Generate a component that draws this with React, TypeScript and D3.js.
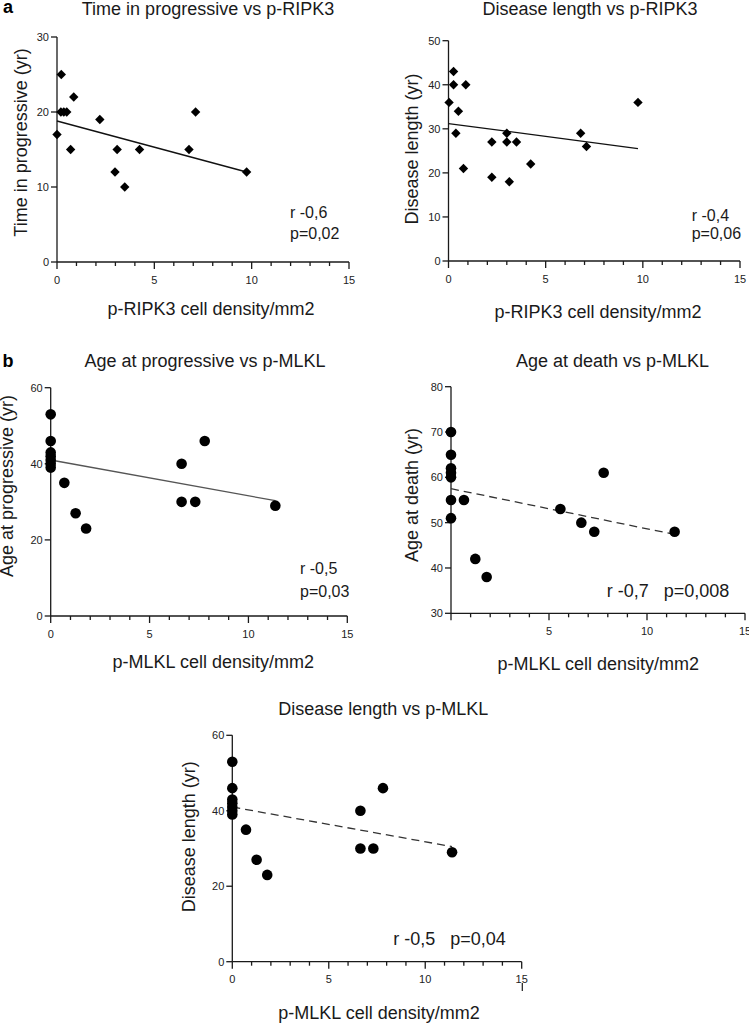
import React from 'react';
import * as d3 from 'd3';

// ---------- data ----------
type Pt = [number, number];

const ripk3TimeProgressive: Pt[] = [
  [0, 17], [0.22, 25], [0.2, 20], [0.35, 20], [0.5, 20], [0.86, 22], [0.7, 15],
  [2.2, 19], [2.98, 12], [3.09, 15], [3.48, 10], [4.24, 15], [6.78, 15], [7.12, 20], [9.74, 12],
];
const ripk3TimeFit: Pt[] = [[0, 18.8], [9.74, 12.0]];

const ripk3DiseaseLength: Pt[] = [
  [0.03, 36], [0.26, 43], [0.26, 40], [0.89, 40], [0.51, 34], [0.38, 29], [0.77, 21],
  [2.23, 27], [2.23, 19], [3.0, 29], [3.0, 27], [3.13, 18], [3.5, 27], [4.23, 22],
  [6.8, 29], [7.1, 26], [9.75, 36],
];
const ripk3DiseaseFit: Pt[] = [[0, 31.2], [9.75, 25.5]];

const mlklAgeProgressive: Pt[] = [
  [0, 53], [0, 46], [0, 43], [0, 42], [0, 41], [0, 40], [0, 39],
  [0.69, 35], [1.26, 27], [1.79, 23], [6.62, 40], [6.62, 30], [7.31, 30], [7.79, 46], [11.36, 29],
];
const mlklAgeProgressiveFit: Pt[] = [[0, 41], [11.36, 30.3]];

const mlklAgeDeath: Pt[] = [
  [0, 70], [0, 65], [0, 62], [0, 61], [0, 60], [0, 55], [0, 51],
  [0.66, 55], [1.24, 42], [1.82, 38], [5.58, 53], [6.65, 50], [7.31, 48], [7.79, 61], [11.41, 48],
];
const mlklAgeDeathFit: Pt[] = [[0, 57.5], [11.41, 47.4]];

const mlklDiseaseLength: Pt[] = [
  [0, 53], [0, 46], [0, 43], [0, 42], [0, 41], [0, 40], [0, 39],
  [0.71, 35], [1.26, 27], [1.81, 23], [6.64, 40], [6.64, 30], [7.31, 30], [7.81, 46], [11.39, 29],
];
const mlklDiseaseFit: Pt[] = [[0, 41], [11.39, 30.5]];

const xTicksMinor = d3.range(0, 16, 1);
const xTicksMajor = [0, 5, 10, 15];
const xTicksMajorNoZero = [5, 10, 15];
const yTicks30 = [0, 10, 20, 30];
const yTicks50 = [0, 10, 20, 30, 40, 50];
const yTicks60 = [0, 20, 40, 60];
const yTicks80 = [30, 40, 50, 60, 70, 80];

// ---------- panel component ----------
const FONT = "'Liberation Sans', Arial, Helvetica, sans-serif";
const INK = '#1a1a1a';

interface PanelProps {
  data: Pt[];
  fit: Pt[];
  marker: 'diamond' | 'circle';
  fitStyle: { dash?: string; color: string };
  xr: [number, number];
  yDomain: [number, number];
  yr: [number, number];
  yTicks: number[];
  xLabels: number[];
  title: string;
  titleX: number;
  titleY: number;
  yLabel: string;
  yLabelX: number;
  yLabelY: number;
  xLabel: string;
  xLabelX: number;
  xLabelY: number;
  notes: { text: string; x: number; y: number; size: number }[];
}

function Panel(p: PanelProps) {
  const x = d3.scaleLinear().domain([0, 15]).range(p.xr);
  const y = d3.scaleLinear().domain(p.yDomain).range(p.yr);
  const x0 = x(0);
  const yBase = y(p.yDomain[0]);
  const line = d3.line<Pt>().x(d => x(d[0])).y(d => y(d[1]));
  const diamond = 'M0,-4.7L4.7,0L0,4.7L-4.7,0Z';
  return (
    <g>
      <text x={p.titleX} y={p.titleY} textAnchor="middle" fontSize={18} fontFamily={FONT} fill={INK}>{p.title}</text>
      <text transform={`translate(${p.yLabelX},${p.yLabelY}) rotate(-90)`} textAnchor="middle" fontSize={18} fontFamily={FONT} fill={INK}>{p.yLabel}</text>
      <text x={p.xLabelX} y={p.xLabelY} textAnchor="middle" fontSize={18} fontFamily={FONT} fill={INK}>{p.xLabel}</text>
      {/* axes */}
      <line x1={x0} x2={x0} y1={y(p.yDomain[1])} y2={yBase} stroke={INK} strokeWidth={1.3} />
      <line x1={x0} x2={x(15)} y1={yBase} y2={yBase} stroke={INK} strokeWidth={1.3} />
      {p.yTicks.map(t => (
        <g key={'y' + t}>
          <line x1={x0 - 6} x2={x0} y1={y(t)} y2={y(t)} stroke={INK} strokeWidth={1.3} />
          <text x={x0 - 8} y={y(t)} dy="0.35em" textAnchor="end" fontSize={11} fontFamily={FONT} fill="#222">{t}</text>
        </g>
      ))}
      {xTicksMinor.map(t => {
        const major = xTicksMajor.includes(t);
        return <line key={'xt' + t} x1={x(t)} x2={x(t)} y1={yBase} y2={yBase + (major ? 7 : 4)} stroke={INK} strokeWidth={1.3} />;
      })}
      {p.xLabels.map(t => (
        <text key={'xl' + t} x={x(t)} y={yBase + 21.5} textAnchor="middle" fontSize={11} fontFamily={FONT} fill="#222">{t}</text>
      ))}
      {/* fit line */}
      <path d={line(p.fit) || ''} fill="none" stroke={p.fitStyle.color} strokeWidth={1.3} strokeDasharray={p.fitStyle.dash} />
      {/* points */}
      {p.data.map((d, i) =>
        p.marker === 'diamond' ? (
          <path key={i} d={diamond} transform={`translate(${x(d[0])},${y(d[1])})`} fill="#000" />
        ) : (
          <circle key={i} cx={x(d[0])} cy={y(d[1])} r={5.3} fill="#000" />
        )
      )}
      {p.notes.map((n, i) => (
        <text key={'n' + i} x={n.x} y={n.y} fontSize={n.size} fontFamily={FONT} fill={INK} style={{ whiteSpace: 'pre' }}>{n.text}</text>
      ))}
    </g>
  );
}

export default function App() {
  return (
    <svg width={749} height={1024} style={{ position: 'absolute', left: 0, top: 0, background: '#fff' }}>
      <rect width={749} height={1024} fill="#fff" />
      <text x={3} y={13} fontSize={18} fontWeight="bold" fontFamily={FONT} fill="#000">a</text>
      <text x={2.5} y={367} fontSize={18} fontWeight="bold" fontFamily={FONT} fill="#000">b</text>

      <Panel data={ripk3TimeProgressive} fit={ripk3TimeFit} marker="diamond" fitStyle={{ color: '#111' }}
        xr={[57, 349]} yDomain={[0, 30]} yr={[262, 37]} yTicks={yTicks30} xLabels={xTicksMajor}
        title="Time in progressive vs p-RIPK3" titleX={208} titleY={14.5}
        yLabel="Time in progressive (yr)" yLabelX={27} yLabelY={142.5}
        xLabel="p-RIPK3 cell density/mm2" xLabelX={211} xLabelY={315}
        notes={[{ text: 'r -0,6', x: 290, y: 218, size: 16 }, { text: 'p=0,02', x: 290, y: 239, size: 16 }]} />

      <Panel data={ripk3DiseaseLength} fit={ripk3DiseaseFit} marker="diamond" fitStyle={{ color: '#111' }}
        xr={[448.5, 740]} yDomain={[0, 50]} yr={[261, 40.7]} yTicks={yTicks50} xLabels={xTicksMajor}
        title="Disease length vs p-RIPK3" titleX={590} titleY={15}
        yLabel="Disease length (yr)" yLabelX={418} yLabelY={149}
        xLabel="p-RIPK3 cell density/mm2" xLabelX={598} xLabelY={318}
        notes={[{ text: 'r -0,4', x: 691.7, y: 221, size: 16 }, { text: 'p=0,06', x: 691.7, y: 239, size: 16 }]} />

      <Panel data={mlklAgeProgressive} fit={mlklAgeProgressiveFit} marker="circle" fitStyle={{ color: '#555' }}
        xr={[50.7, 347.3]} yDomain={[0, 60]} yr={[616, 387.7]} yTicks={yTicks60} xLabels={xTicksMajor}
        title="Age at progressive vs p-MLKL" titleX={205} titleY={367.3}
        yLabel="Age at progressive (yr)" yLabelX={12.7} yLabelY={486}
        xLabel="p-MLKL cell density/mm2" xLabelX={213.3} xLabelY={668.3}
        notes={[{ text: 'r -0,5', x: 300, y: 574.3, size: 16 }, { text: 'p=0,03', x: 300, y: 596.7, size: 16 }]} />

      <Panel data={mlklAgeDeath} fit={mlklAgeDeathFit} marker="circle" fitStyle={{ color: '#333', dash: '8 5' }}
        xr={[451, 745]} yDomain={[30, 80]} yr={[613.3, 386.7]} yTicks={yTicks80} xLabels={xTicksMajorNoZero}
        title="Age at death vs p-MLKL" titleX={612.5} titleY={367.3}
        yLabel="Age at death (yr)" yLabelX={417.7} yLabelY={495}
        xLabel="p-MLKL cell density/mm2" xLabelX={598.3} xLabelY={670}
        notes={[{ text: 'r -0,7   p=0,008', x: 606.7, y: 596.7, size: 18 }]} />

      <Panel data={mlklDiseaseLength} fit={mlklDiseaseFit} marker="circle" fitStyle={{ color: '#333', dash: '8 5' }}
        xr={[232.3, 521.7]} yDomain={[0, 60]} yr={[961.7, 735.3]} yTicks={yTicks60} xLabels={xTicksMajor}
        title="Disease length vs p-MLKL" titleX={383.3} titleY={715}
        yLabel="Disease length (yr)" yLabelX={195} yLabelY={836.7}
        xLabel="p-MLKL cell density/mm2" xLabelX={379} xLabelY={1019}
        notes={[{ text: 'r -0,5   p=0,04', x: 393.3, y: 945, size: 18 }]} />
      <line x1={522.3} x2={522.3} y1={983} y2={991} stroke={INK} strokeWidth={1.2} />
    </svg>
  );
}
